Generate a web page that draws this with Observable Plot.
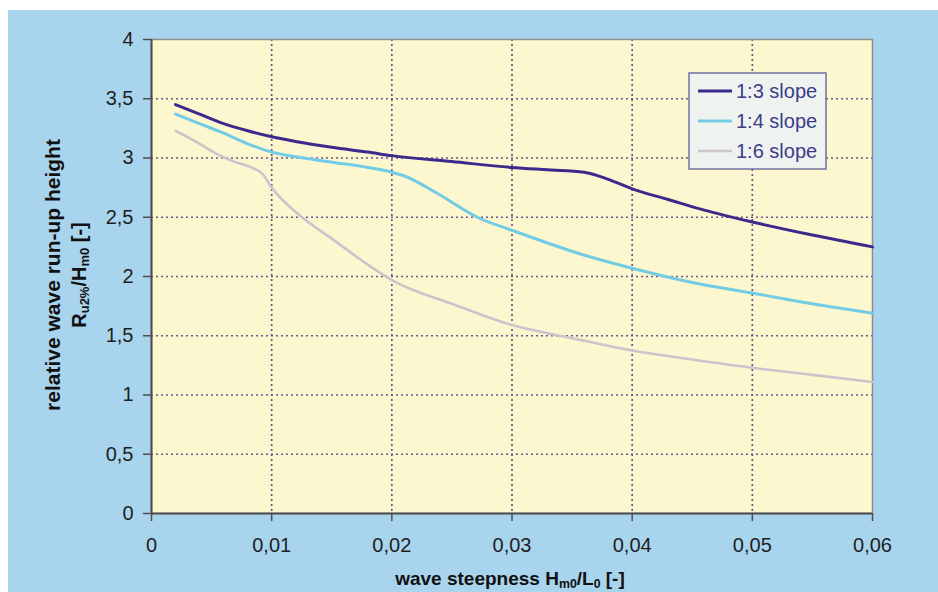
<!DOCTYPE html>
<html><head><meta charset="utf-8">
<script src="https://cdn.jsdelivr.net/npm/d3@7"></script>
<script src="https://cdn.jsdelivr.net/npm/@observablehq/plot@0.6"></script>
<style>
html,body{margin:0;padding:0;background:#fff;width:938px;height:592px;overflow:hidden;}
#chart{position:absolute;left:8px;top:10px;}
svg{display:block}
</style></head><body><div id="chart"></div>
<script>
const seriesNames = ["1:3 slope", "1:4 slope", "1:6 slope"];
const seriesColors = ["#3b2a8c", "#74cbe6", "#cbc4cb"];

const x13 = [0.002,0.004,0.006,0.008,0.010,0.012,0.015,0.018,0.020,0.025,0.030,0.033,0.036,0.038,0.040,0.043,0.046,0.050,0.055,0.060];
const y13 = [3.45,3.37,3.29,3.23,3.18,3.14,3.09,3.05,3.02,2.97,2.92,2.90,2.88,2.82,2.74,2.65,2.56,2.46,2.35,2.25];

const x14 = [0.002,0.004,0.006,0.008,0.010,0.012,0.015,0.018,0.020,0.021,0.0238,0.0271,0.030,0.0357,0.040,0.045,0.050,0.055,0.060];
const y14 = [3.37,3.29,3.21,3.12,3.05,3.01,2.965,2.92,2.88,2.85,2.70,2.50,2.39,2.19,2.07,1.95,1.86,1.77,1.69];

const x16 = [0.002,0.004,0.0055,0.0066,0.0092,0.010,0.0124,0.015,0.018,0.020,0.025,0.030,0.035,0.040,0.045,0.050,0.055,0.060];
const y16 = [3.23,3.12,3.03,2.98,2.87,2.75,2.51,2.32,2.10,1.97,1.77,1.59,1.48,1.375,1.30,1.23,1.17,1.11];

const xTicks = [0, 0.01, 0.02, 0.03, 0.04, 0.05, 0.06];
const yTicks = [0, 0.5, 1, 1.5, 2, 2.5, 3, 3.5, 4];

const toRows = (xs, ys, name) => xs.map((x, i) => ({x, y: ys[i], series: name}));
const series = [toRows(x13, y13, seriesNames[0]), toRows(x14, y14, seriesNames[1]), toRows(x16, y16, seriesNames[2])];
const widths = [3, 3, 2.6];

const fmt = d => String(+d.toFixed(3)).replace(".", ",");
const FONT = "'Liberation Sans', Arial, Helvetica, sans-serif";
const gridStyle = {stroke: "#6a5590", strokeDasharray: "2,3", strokeWidth: 1.7};

const plot = Plot.plot({
  width: 930, height: 582,
  marginLeft: 143, marginRight: 66, marginTop: 29, marginBottom: 79,
  style: {background: "#a9d4ee", fontFamily: FONT, overflow: "visible"},
  x: {domain: [0, 0.06]},
  y: {domain: [0, 4]},
  marks: [
    Plot.frame({fill: "#fdf7cf"}),
    Plot.ruleX(xTicks.slice(1, -1), gridStyle),
    Plot.ruleY(yTicks.slice(1, -1), gridStyle),
    Plot.frame({stroke: "#8e8e8e", strokeWidth: 1.5}),
    Plot.ruleX([0], {stroke: "#4e4e4e", strokeWidth: 2}),
    Plot.ruleY([0], {stroke: "#4e4e4e", strokeWidth: 2}),
    Plot.axisX({ticks: xTicks, tickFormat: fmt, tickSize: 8, tickPadding: 16, fontSize: 20, label: null, stroke: "#4e4e4e", fill: "#1e1e1e", strokeWidth: 1.5}),
    Plot.axisY({ticks: yTicks, tickFormat: fmt, tickSize: 8, tickPadding: 10, fontSize: 20, label: null, stroke: "#4e4e4e", fill: "#1e1e1e", strokeWidth: 1.5}),
    ...series.map((rows, i) => Plot.line(rows, {x: "x", y: "y", stroke: seriesColors[i], strokeWidth: widths[i], curve: "monotone-x"}))
  ]
});
document.getElementById("chart").appendChild(plot);

const svg = d3.select(plot);
const addRich = (g, parts) => {
  parts.forEach(([t, sub]) => {
    const ts = g.append("tspan").text(t);
    if (sub) ts.attr("font-size", "0.65em").attr("baseline-shift", "-0.22em");
  });
};
// x title
const xt = svg.append("text").attr("x", 502).attr("y", 575).attr("text-anchor", "middle")
  .attr("font-family", FONT).attr("font-weight", "bold").attr("font-size", 19).attr("fill", "#111");
addRich(xt, [["wave steepness H"], ["m0", true], ["/L"], ["0", true], [" [-]"]]);
// y title
svg.append("text").attr("transform", "translate(52,265) rotate(-90)").attr("text-anchor", "middle")
  .attr("font-family", FONT).attr("font-weight", "bold").attr("font-size", 21).attr("fill", "#111")
  .text("relative wave run-up height");
const yt2 = svg.append("text").attr("transform", "translate(78,265) rotate(-90)").attr("text-anchor", "middle")
  .attr("font-family", FONT).attr("font-weight", "bold").attr("font-size", 20).attr("fill", "#111");
addRich(yt2, [["R"], ["u2%", true], ["/H"], ["m0", true], [" [-]"]]);

// legend
const lg = svg.append("g");
lg.append("rect").attr("x", 681).attr("y", 63).attr("width", 137).attr("height", 96)
  .attr("fill", "#eef3ef").attr("stroke", "#7070a0").attr("stroke-width", 1.5);
seriesNames.forEach((name, i) => {
  const yy = 81 + i * 30;
  lg.append("line").attr("x1", 690).attr("x2", 724).attr("y1", yy).attr("y2", yy)
    .attr("stroke", seriesColors[i]).attr("stroke-width", widths[i]);
  lg.append("text").attr("x", 728).attr("y", yy).attr("dy", "0.36em").attr("text-anchor", "start")
    .attr("font-family", FONT).attr("font-size", 20).attr("fill", "#3a3c8c").text(name);
});
</script></body></html>
